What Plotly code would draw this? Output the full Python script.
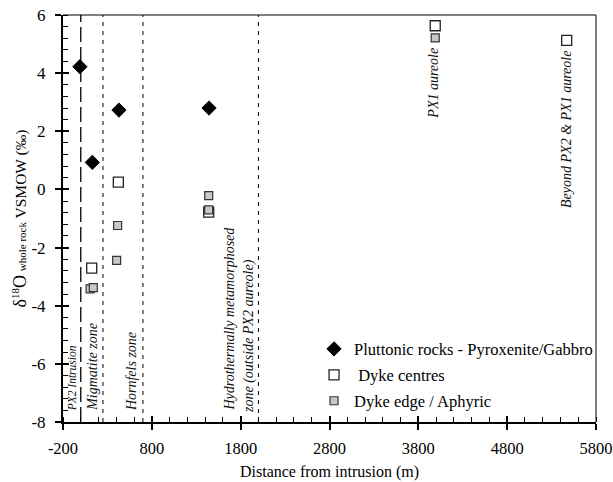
import plotly.graph_objects as go

# Data
pluton_x = [-10, 130, 430, 1444]
pluton_y = [4.22, 0.93, 2.73, 2.80]

centre_x = [423, 123, 1440, 3990, 5470]
centre_y = [0.25, -2.71, -0.78, 5.63, 5.13]

edge_x = [415, 404, 105, 141, 1440, 1440, 3990]
edge_y = [-1.24, -2.44, -3.42, -3.38, -0.21, -0.70, 5.21]

zone_lines_long = [0]
zone_lines_dot = [250, 700, 2000]

x_ticks = [-200, 800, 1800, 2800, 3800, 4800, 5800]
y_ticks = [-8, -6, -4, -2, 0, 2, 4, 6]

zone_labels = [
    (-99, -6.5, "PX2 Intrusion", 11.5),
    (138, -6.1, "Migmatite zone", 14),
    (573, -6.26, "Hornfels zone", 14),
    (1680, -4.44, "Hydrothermally metamorphosed", 14),
    (1886, -5.03, "zone (outside PX2 aureole)", 14),
    (3969, 3.65, "PX1 aureole", 14),
    (5470, 2.07, "Beyond PX2 & PX1 aureole", 14),
]

FONT = "Liberation Serif"

fig = go.Figure()
fig.add_trace(go.Scatter(x=pluton_x, y=pluton_y, mode="markers",
                         name="Pluttonic rocks - Pyroxenite/Gabbro", legendgroup="a",
                         marker=dict(symbol="diamond", size=11, color="black",
                                     line=dict(color="black", width=1))))
fig.add_trace(go.Scatter(x=centre_x, y=centre_y, mode="markers",
                         name=" Dyke centres", legendgroup="b",
                         marker=dict(symbol="square", size=10, color="white",
                                     line=dict(color="#222", width=1.3))))
fig.add_trace(go.Scatter(x=edge_x, y=edge_y, mode="markers",
                         name="Dyke edge / Aphyric", legendgroup="c",
                         marker=dict(symbol="square", size=8, color="#c8c8c8",
                                     line=dict(color="#333", width=1.2))))

# invisible trace to carry inside major ticks
fig.add_trace(go.Scatter(x=[x_ticks[0]], y=[y_ticks[0]], xaxis="x2", yaxis="y2",
                         mode="markers", marker=dict(opacity=0), showlegend=False,
                         hoverinfo="skip"))

for xv in zone_lines_long:
    fig.add_shape(type="line", x0=xv, x1=xv, y0=0, y1=1, xref="x", yref="paper",
                  line=dict(color="black", width=1.3, dash="15px,5px"))
for xv in zone_lines_dot:
    fig.add_shape(type="line", x0=xv, x1=xv, y0=0, y1=1, xref="x", yref="paper",
                  line=dict(color="black", width=1, dash="4px,5px"))
# top and right frame
fig.add_shape(type="line", x0=0, x1=1, y0=1, y1=1, xref="paper", yref="paper",
              line=dict(color="black", width=1))
fig.add_shape(type="line", x0=1, x1=1, y0=0, y1=1, xref="paper", yref="paper",
              line=dict(color="black", width=1))

for x, y, t, s in zone_labels:
    fig.add_annotation(x=x, y=y, text="<i>" + t + "</i>", textangle=-90,
                       showarrow=False, font=dict(family=FONT, size=s, color="#111"),
                       xref="x", yref="y")

fig.update_layout(
    width=613, height=482,
    margin=dict(l=63, r=17, t=15, b=60, autoexpand=False),
    paper_bgcolor="white", plot_bgcolor="white",
    font=dict(family=FONT, color="black"),
    showlegend=True,
    legend=dict(x=0.471, y=0.222, xanchor="left", yanchor="top",
                font=dict(family=FONT, size=16.5, color="black"),
                bgcolor="rgba(0,0,0,0)", tracegroupgap=1.5,
                itemwidth=30),
    xaxis=dict(range=[-200, 5800], showgrid=False, zeroline=False, automargin=False,
               showline=True, linecolor="black", linewidth=2,
               tickvals=x_ticks, ticktext=[str(v) for v in x_ticks],
               ticks="outside", ticklen=6, tickwidth=1.5, tickcolor="black",
               ticklabelstandoff=4, ticklabeloverflow="allow",
               tickfont=dict(family=FONT, size=16.5),
               minor=dict(dtick=200, tick0=-200, ticks="inside", ticklen=5,
                          tickwidth=1, tickcolor="black"),
               title=dict(text="Distance from intrusion (m)",
                          font=dict(family=FONT, size=16), standoff=9)),
    yaxis=dict(range=[-8, 6], showgrid=False, zeroline=False, automargin=False,
               showline=True, linecolor="black", linewidth=2,
               tickvals=y_ticks, ticktext=[str(v) for v in y_ticks],
               ticks="outside", ticklen=6, tickwidth=1.5, tickcolor="black",
               ticklabelstandoff=6, ticklabeloverflow="allow",
               tickfont=dict(family=FONT, size=17),
               minor=dict(dtick=0.4, tick0=-8, ticks="inside", ticklen=5,
                          tickwidth=1, tickcolor="black"),
               title=dict(text="<span style='font-size:18px'>δ</span><sup>18</sup><span style='font-size:18px'>O</span> <span style='font-size:11px'>whole rock</span> VSMOW (‰)",
                          font=dict(family=FONT, size=15.5), standoff=1)),
    xaxis2=dict(range=[-200, 5800], overlaying="x", side="bottom", showgrid=False,
                zeroline=False, showline=False, tickvals=x_ticks, ticks="inside",
                ticklen=6, tickwidth=1.5, tickcolor="black", showticklabels=False),
    yaxis2=dict(range=[-8, 6], overlaying="y", side="left", showgrid=False,
                zeroline=False, showline=False, tickvals=y_ticks, ticks="inside",
                ticklen=6, tickwidth=1.5, tickcolor="black", showticklabels=False),
)

fig.write_html("out.html", config={"displayModeBar": False},
               post_script="document.body.style.margin='0';document.body.style.overflow='hidden';")
